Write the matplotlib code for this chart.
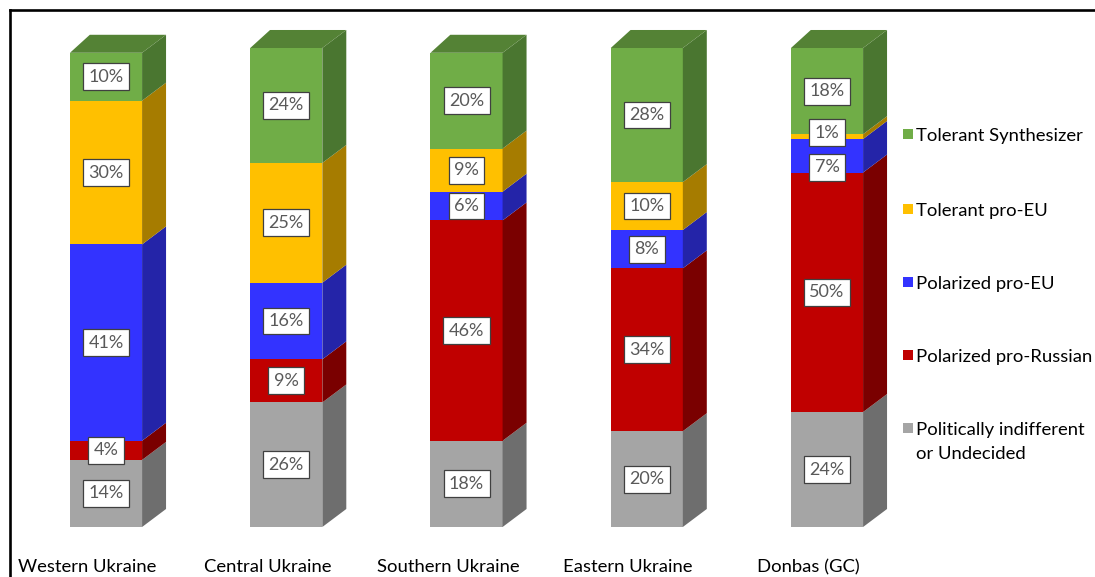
import numpy as np
import matplotlib.pyplot as plt
from matplotlib.patches import Polygon, Rectangle
from matplotlib.lines import Line2D

# data
categories = ["Western Ukraine", "Central Ukraine", "Southern Ukraine",
              "Eastern Ukraine", "Donbas (GC)"]
indifferent = [14, 26, 18, 20, 24]
pro_russian = [4, 9, 46, 34, 50]
polarized_eu = [41, 16, 6, 8, 7]
tolerant_eu = [30, 25, 9, 10, 1]
synthesizer = [10, 24, 20, 28, 18]

series = [indifferent, pro_russian, polarized_eu, tolerant_eu, synthesizer]
names = ["Politically indifferent\nor Undecided", "Polarized pro-Russian",
         "Polarized pro-EU", "Tolerant pro-EU", "Tolerant Synthesizer"]
front = ["#A5A5A5", "#C00000", "#3333FF", "#FFC000", "#70AD47"]
side = ["#6E6E6E", "#7A0000", "#2424A8", "#A67C00", "#4A7630"]
top_col = "#548235"

plt.rcParams['font.family'] = ['Lato', 'DejaVu Sans']

fig = plt.figure(figsize=(10.95, 5.77), dpi=100)
W, H = 1095, 577
ax = fig.add_axes([15.9 / W, 50 / H, 901.25 / W, 479 / H])
ax.set_xlim(-0.5, 4.5)
ax.set_ylim(0, 100)
ax.axis('off')

bw = 0.4          # bar front width
dxl, dxr = 0.11, 0.133   # depth offsets (x units)
dy = 3.76         # depth offset (y units)
min_sep = 7.2     # labels closer than this get pushed apart

for i in range(len(categories)):
    x0, x1 = i - bw / 2, i + bw / 2
    bottom = 0
    label_y = []
    for k, vals in enumerate(series):
        v = vals[i]
        t = bottom + v
        ax.add_patch(Polygon([(x0, bottom), (x1, bottom), (x1, t), (x0, t)],
                             closed=True, fc=front[k], ec='none', clip_on=False))
        ax.add_patch(Polygon([(x1, bottom), (x1 + dxr, bottom + dy),
                              (x1 + dxr, t + dy), (x1, t)],
                             closed=True, fc=side[k], ec='none', clip_on=False))
        label_y.append(bottom + v / 2)
        bottom = t
    ax.add_patch(Polygon([(x0, bottom), (x1, bottom), (x1 + dxr, bottom + dy),
                          (x0 + dxl, bottom + dy)],
                         closed=True, fc=top_col, ec='none', clip_on=False))

    # simple overlap avoidance, top down
    for k in range(len(series) - 1, 0, -1):
        gap = label_y[k] - label_y[k - 1]
        if gap < min_sep:
            d = min_sep - gap
            label_y[k] += 0.25 * d
            label_y[k - 1] -= 0.75 * d
    for k, vals in enumerate(series):
        ax.text(i, label_y[k], f"{vals[i]}%", ha='center', va='center',
                fontsize=13, color='#595959', zorder=5,
                bbox=dict(boxstyle='square,pad=0.3', fc='white',
                          ec='#404040', lw=0.9))

    ax.text(i - 0.103, -8.4, categories[i], ha='center', va='center',
            fontsize=13.3, color='black', clip_on=False)

# legend, drawn by hand so the two-line entry keeps its marker on line one
leg_y = [134, 209, 282, 355, 428]
for n, k in enumerate(range(4, -1, -1)):
    yc = 1 - leg_y[n] / H
    fig.add_artist(Rectangle((903 / W, yc - 5 / H), 10 / W, 10 / H,
                             transform=fig.transFigure, fc=front[k], ec='none'))
    fig.text(916 / W, yc + 6 / H, names[k], ha='left', va='top',
             fontsize=13.3, color='black', linespacing=1.65)

# frame lines
fig.add_artist(Line2D([9.5 / W, 9.5 / W], [0, 1 - 9.5 / H],
                      transform=fig.transFigure, color='black', lw=1.9))
fig.add_artist(Line2D([9.5 / W, 1], [1 - 9.5 / H, 1 - 9.5 / H],
                      transform=fig.transFigure, color='black', lw=1.9))

fig.savefig('out.png', dpi=100)
